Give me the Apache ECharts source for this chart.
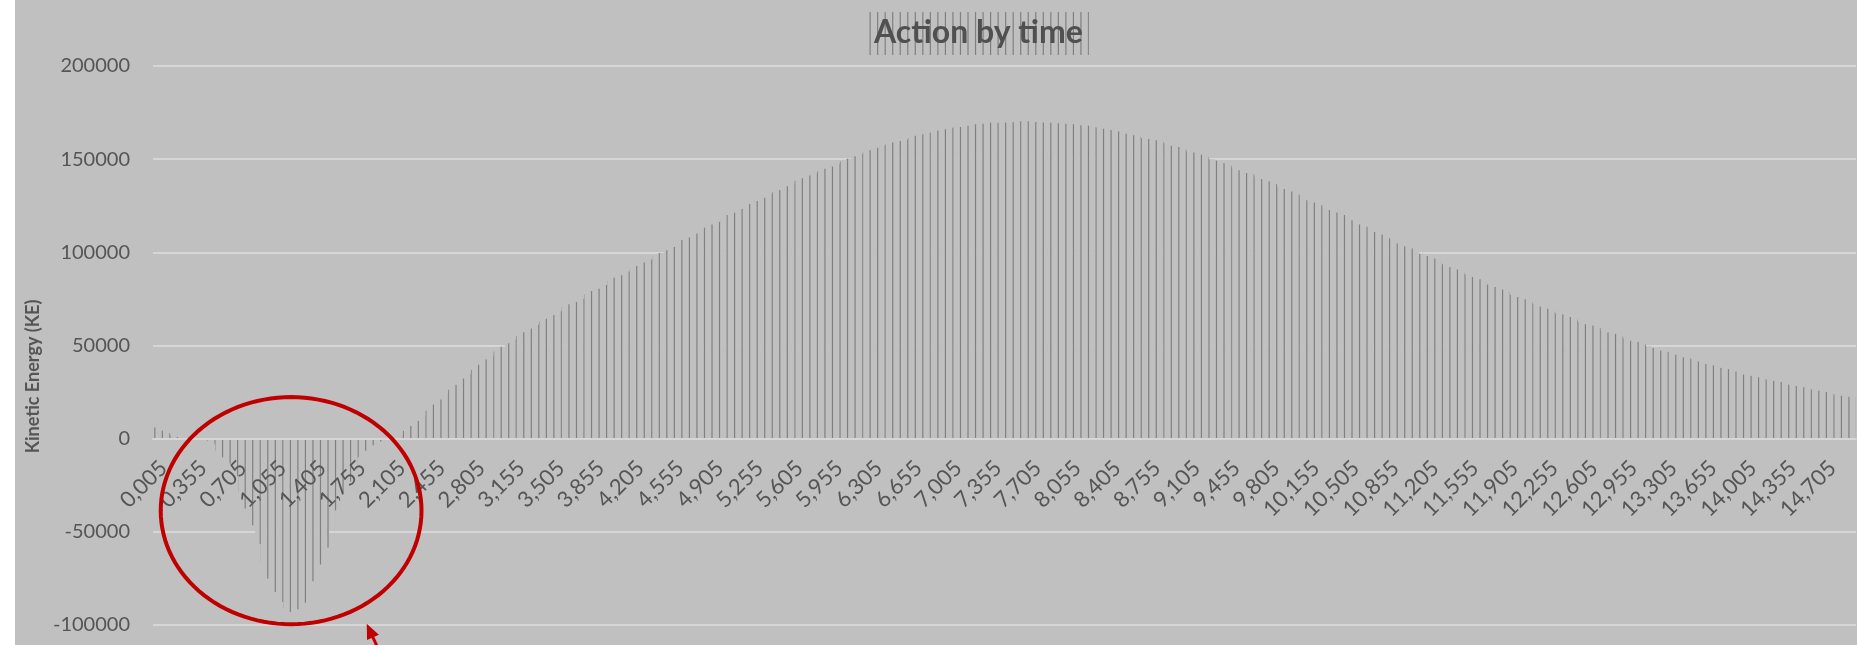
<!DOCTYPE html>
<html>
<head>
<meta charset="utf-8">
<title>Action by time</title>
<script src="https://cdn.jsdelivr.net/npm/echarts@6/dist/echarts.min.js"></script>
<style>
  html, body { margin: 0; padding: 0; background: #ffffff; }
  #chart { position: absolute; left: 15px; top: 0; width: 1842px; height: 645px; }
</style>
</head>
<body>
<div id="chart"></div>
<script>
// Time axis: samples every 0.05 s starting at 0.005 s (comma decimal separator)
const TIME_START = 0.005;
const TIME_STEP = 0.05;
const SAMPLE_COUNT = 300;
const times = [];
for (let i = 0; i < SAMPLE_COUNT; i++) {
  times.push((TIME_START + TIME_STEP * i).toFixed(3).replace('.', ','));
}

// Kinetic energy per sample, start-up dip (0.005 .. 2.155)
const keStart = [
  6000, 4300, 3000, 2000, 900, 200, 0, -200, -500, -1000,
  -3000, -6500, -10000, -13300, -20000, -29000, -37500, -46500, -56500, -66000,
  -75000, -82300, -87600, -91000, -93000, -91600, -88000, -82500, -76500, -67500,
  -58500, -49000, -38500, -30000, -23000, -16500, -10000, -6500, -3500, -2000,
  -1500, -400, 200, 1500
];
// Rise to the peak (2.205 .. 7.005)
const keRise = [
  4200, 6800, 9500, 12200, 15000, 18300, 21000, 23700, 26300, 28900,
  32300, 34800, 37000, 39700, 42500, 44600, 46800, 49300, 51200, 53300,
  55200, 57100, 59100, 61200, 62900, 64300, 66400, 68400, 70500, 72200,
  73400, 75100, 77700, 79200, 80500, 82500, 84700, 86400, 87700, 89700,
  91500, 92700, 94500, 96100, 97900, 99600, 101100, 102900, 104800, 106600,
  108000, 110100, 111600, 113200, 115000, 116400, 118200, 120000, 121300, 123300,
  124700, 125900, 127600, 129300, 130800, 132100, 133500, 135500, 137000, 138400,
  139700, 141200, 142200, 143400, 144800, 146100, 147500, 148800, 150200, 151600,
  152500, 153500, 154800, 156100, 157400, 158000, 159000, 159800, 160500, 161500,
  162600, 163400, 164100, 164800, 165400, 166100, 166800
];
// Plateau and decay (7.055 .. 14.955)
const keFall = [
  167100, 167300, 168000, 168700, 168900, 169000, 169500, 169600, 169700, 169700,
  169800, 170300, 170500, 170400, 169900, 169700, 169600, 169500, 169300, 169000,
  168900, 168700, 168200, 168000, 167500, 167000, 166300, 165600, 165300, 164800,
  163600, 162800, 162100, 161400, 160800, 160100, 159400, 158600, 157200, 156500,
  155500, 154300, 153600, 152400, 151000, 149900, 149100, 147800, 146500, 145300,
  144000, 142600, 141800, 140700, 139400, 138100, 136700, 135200, 134000, 132600,
  130900, 129300, 128000, 126700, 125300, 124000, 122700, 121400, 120100, 118700,
  117200, 115000, 113700, 112300, 110900, 109600, 107500, 106000, 104700, 103300,
  102100, 100600, 99300, 98000, 96700, 95100, 93600, 92100, 90800, 89600,
  88200, 86800, 85500, 84100, 82700, 81400, 80000, 78700, 77300, 76000,
  74800, 73400, 72100, 70900, 69700, 68200, 67300, 66700, 65300, 63900,
  62600, 61400, 60700, 59400, 58200, 57000, 56200, 54700, 53600, 52500,
  51900, 50500, 49600, 48700, 47200, 46600, 45900, 45100, 43700, 43000,
  42400, 41400, 40000, 39300, 38700, 38000, 37300, 36000, 35100, 34400,
  33700, 33000, 32300, 31700, 31000, 30400, 29600, 29000, 28300, 27600,
  27000, 26300, 25700, 25000, 24200, 23700, 23000, 22500, 22300
];
const kineticEnergy = keStart.concat(keRise, keFall);

// Value axis ticks
const Y_MIN = -100000;
const Y_MAX = 200000;
const Y_STEP = 50000;

// Region of the start-up dip that gets circled (category units / axis values)
const dipRing = { fromCat: 1.36, toCat: 47.3, top: 22300, bottom: -99600 };

// Vertical hatch used for the bar fill and the title box
const HATCH_TILE = 128, HATCH_LINES = 17, HATCH_PHASE = 4.3;
function hatchPattern() {
  const c = document.createElement('canvas');
  c.width = HATCH_TILE; c.height = 8;
  const ctx = c.getContext('2d');
  ctx.fillStyle = '#c0c0c0';
  ctx.fillRect(0, 0, HATCH_TILE, 8);
  ctx.fillStyle = '#808080';
  const step = HATCH_TILE / HATCH_LINES;
  for (let j = 0; j < HATCH_LINES; j++) {
    const x = HATCH_PHASE + j * step;
    ctx.fillRect(x - 0.6, 0, 1.2, 8);
  }
  return { image: c, repeat: 'repeat' };
}
const hatch = hatchPattern();

const FONT = 'Lato, "Open Sans", "Liberation Sans", sans-serif';
const TITLE_TEXT = 'Action by time';
const TITLE_SIZE = 32;
const LABEL_COLOR = '#555555';

const chart = echarts.init(document.getElementById('chart'), null, { renderer: 'canvas' });

const option = {
  animation: false,
  backgroundColor: '#c0c0c0',
  title: {
    text: TITLE_TEXT,
    left: 859,
    top: 16,
    padding: 0,
    textStyle: {
      fontFamily: FONT,
      fontSize: TITLE_SIZE,
      fontWeight: 'bold',
      color: '#505050',
      lineHeight: 34
    },
    z: 10
  },
  grid: { left: 138, right: 1, top: 66, bottom: 20, containLabel: false, outerBoundsMode: 'none' },
  xAxis: {
    type: 'category',
    data: times,
    position: 'bottom',
    offset: 0,
    z: 3,
    axisLine: { show: true, onZero: false, lineStyle: { color: '#d6d6d6', width: 2 } },
    axisTick: { show: false },
    axisLabel: {
      interval: 6,
      rotate: 45,
      margin: 18,
      verticalAlign: 'top',
      fontFamily: FONT,
      fontSize: 22,
      color: LABEL_COLOR
    },
    splitLine: { show: false }
  },
  yAxis: {
    type: 'value',
    min: Y_MIN,
    max: Y_MAX,
    interval: Y_STEP,
    name: 'Kinetic Energy (KE)',
    nameLocation: 'middle',
    nameGap: 111,
    nameTextStyle: {
      fontFamily: FONT,
      fontSize: 18,
      fontWeight: 'bold',
      color: LABEL_COLOR,
      padding: [0, 62, 0, 0]
    },
    axisLine: { show: false },
    axisTick: { show: false },
    axisLabel: {
      margin: 23,
      fontFamily: FONT,
      fontSize: 20,
      color: LABEL_COLOR,
      formatter: v => String(v)
    },
    splitLine: { lineStyle: { color: '#d6d6d6', width: 2 } }
  },
  series: [{
    type: 'bar',
    data: kineticEnergy,
    barCategoryGap: '0%',
    itemStyle: { color: hatch },
    emphasis: { disabled: true },
    silent: true
  }]
};
chart.setOption(option);

// Category axis sits on the zero line: shift it up from the grid bottom
const yBottom = chart.convertToPixel({ yAxisIndex: 0 }, Y_MIN);
const yZero = chart.convertToPixel({ yAxisIndex: 0 }, 0);
chart.setOption({ xAxis: { offset: -(yBottom - yZero) } });

// Title box (hatched) sized from the title text
(function drawTitleBox() {
  const m = document.createElement('canvas').getContext('2d');
  m.font = 'bold ' + TITLE_SIZE + 'px ' + FONT;
  const tw = m.measureText(TITLE_TEXT).width;
  const left = option.title.left;
  const padX = 6;
  chart.setOption({
    graphic: [{
      id: 'titleBox',
      type: 'rect',
      silent: true,
      z: 5,
      shape: { x: left - padX, y: 12, width: tw + 2 * padX, height: 43 },
      style: { fill: hatch }
    }]
  });
})();

// Red ring around the dip plus the pointer arrow, placed from axis coordinates
(function drawAnnotation() {
  const c0 = chart.convertToPixel({ xAxisIndex: 0 }, 0);
  const c1 = chart.convertToPixel({ xAxisIndex: 0 }, 1);
  const band = c1 - c0;
  const catEdge = k => c0 - band / 2 + k * band;
  const x1 = catEdge(dipRing.fromCat), x2 = catEdge(dipRing.toCat);
  const y1 = chart.convertToPixel({ yAxisIndex: 0 }, dipRing.top);
  const y2 = chart.convertToPixel({ yAxisIndex: 0 }, dipRing.bottom);
  const cx = (x1 + x2) / 2, cy = (y1 + y2) / 2;
  const rx = (x2 - x1) / 2, ry = (y2 - y1) / 2;
  const pts = [];
  for (let k = 0; k < 120; k++) {
    const a = (k / 120) * Math.PI * 2;
    pts.push([cx + rx * Math.cos(a), cy + ry * Math.sin(a)]);
  }
  // arrow tip just below the ring's lower right
  const tip = [cx + 0.58 * rx, cy + ry * 0.995];
  const dx = 0.414, dy = 0.91;
  const headLen = 15, headHalf = 6.5;
  const base = [tip[0] + dx * headLen, tip[1] + dy * headLen];
  const nx = -dy, ny = dx;
  chart.setOption({
    graphic: [
      {
        id: 'ring',
        type: 'polygon',
        silent: true,
        z: 100,
        shape: { points: pts },
        style: { fill: 'none', stroke: '#c00000', lineWidth: 4 }
      },
      {
        id: 'arrowShaft',
        type: 'line',
        silent: true,
        z: 100,
        shape: { x1: base[0] - dx * 2, y1: base[1] - dy * 2, x2: tip[0] + dx * 60, y2: tip[1] + dy * 60 },
        style: { stroke: '#c00000', lineWidth: 3 }
      },
      {
        id: 'arrowHead',
        type: 'polygon',
        silent: true,
        z: 100,
        shape: {
          points: [
            tip,
            [base[0] + nx * headHalf, base[1] + ny * headHalf],
            [base[0] - nx * headHalf, base[1] - ny * headHalf]
          ]
        },
        style: { fill: '#c00000' }
      }
    ]
  });
})();
</script>
</body>
</html>
